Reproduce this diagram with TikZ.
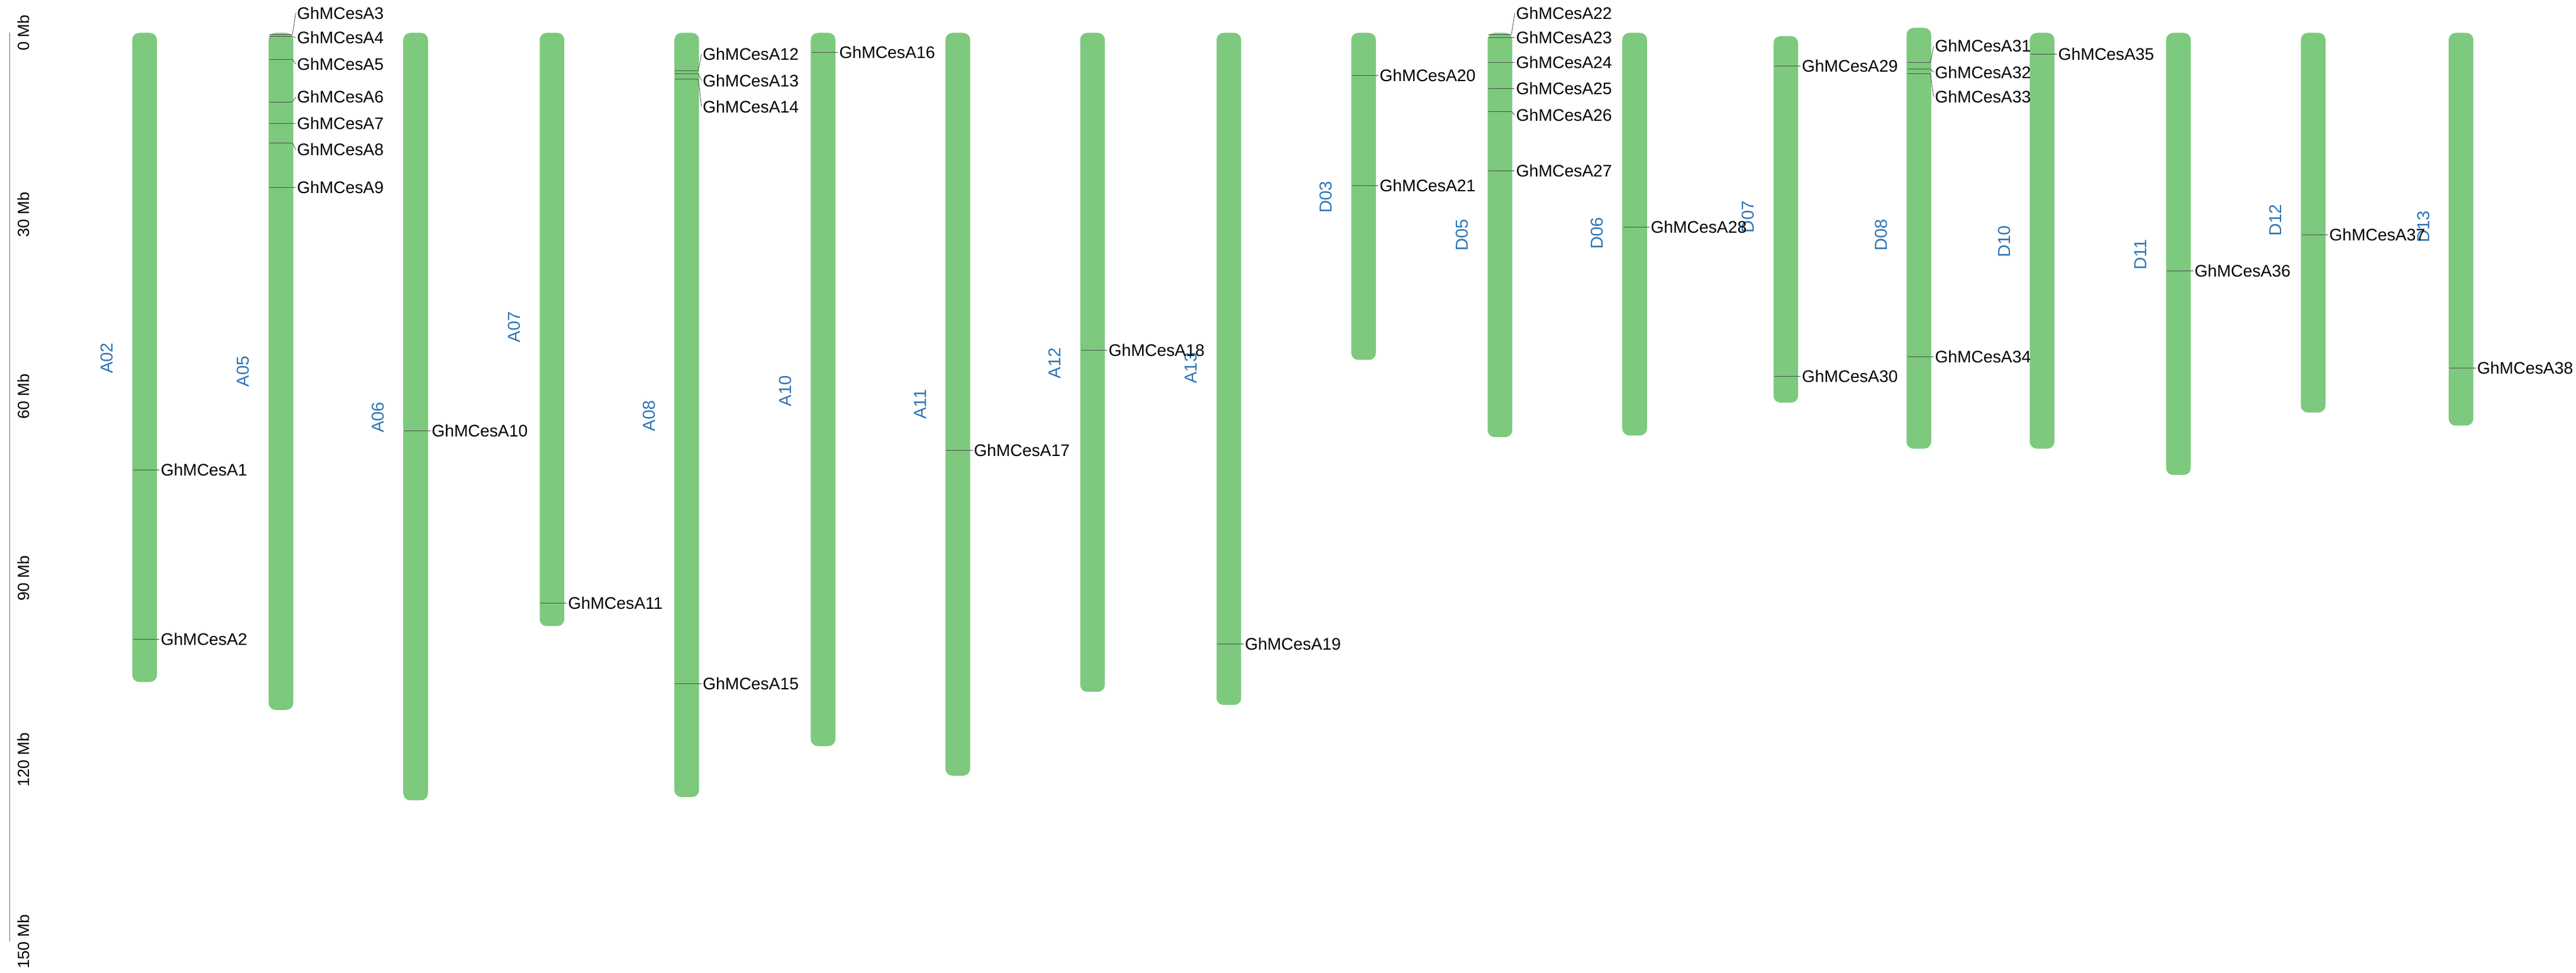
\documentclass[tikz,border=0pt]{standalone}
\usepackage{fontspec}
\setmainfont{Liberation Sans}
\definecolor{chr}{RGB}{125,201,125}
\definecolor{lab}{RGB}{46,117,182}
\tikzset{x=0.05cm,y=-0.05cm,
 chrom/.style={fill=chr,draw=none,rounded corners=6pt},
 chrlab/.style={text=lab,rotate=90,font=\fontsize{15}{18}\selectfont},
 genelab/.style={anchor=west,font=\fontsize{14.5}{17}\selectfont,inner sep=1pt},
 tick/.style={rotate=90,anchor=north,font=\fontsize{14}{17}\selectfont,inner sep=1pt},
 link/.style={draw=black!70,line width=0.4pt}}
\newcommand{\gn}[5]{% x, marker y, label y, name, node id
 \draw[link] (#1-7,#2) -- (#1+7,#2) coordinate (m#5);
 \node[genelab] (g#5) at (#1+9,#3) {#4};
 \draw[link] (m#5) -- (g#5.west);}
\begin{document}
\begin{tikzpicture}
\useasboundingbox (0,0) rectangle (1568,592);
\draw[line width=0.8pt,black!60] (6,20) coordinate (ax0) -- (6,573) coordinate (ax1);
\foreach \v in {0,30,60,90,120,150}{
 \node[tick] at (10,20+3.687*\v) {\v{} Mb};}
\foreach \n/\x/\t/\b/\ly in {A02/88/20/415/218,A05/171/20/432/226,A06/253/20/487/254,A07/336/20/381/199,A08/418/20/485/253,A10/501/20/454/238,A11/583/20/472/246,A12/665/20/421/221,A13/748/20/429/224,D03/830/20/219/120,D05/913/20/266/143,D06/995/20/265/142,D07/1087/22/245/132,D08/1168/17/273/143,D10/1243/20/273/147,D11/1326/20/289/155,D12/1408/20/251/134,D13/1498/20/259/138}{
 \fill[chrom] (\x-7.5,\t) rectangle (\x+7.5,\b);
 \node[chrlab] (l\n) at (\x-23,\ly) {\n};}
\gn{88}{286}{286}{GhMCesA1}{1}
\gn{88}{389}{389}{GhMCesA2}{2}
\gn{171}{21}{8}{GhMCesA3}{3}
\gn{171}{22}{23}{GhMCesA4}{4}
\gn{171}{36}{39}{GhMCesA5}{5}
\gn{171}{62}{59}{GhMCesA6}{6}
\gn{171}{75}{75}{GhMCesA7}{7}
\gn{171}{87}{91}{GhMCesA8}{8}
\gn{171}{114}{114}{GhMCesA9}{9}
\gn{253}{262}{262}{GhMCesA10}{10}
\gn{336}{367}{367}{GhMCesA11}{11}
\gn{418}{43}{33}{GhMCesA12}{12}
\gn{418}{45}{49}{GhMCesA13}{13}
\gn{418}{48}{65}{GhMCesA14}{14}
\gn{418}{416}{416}{GhMCesA15}{15}
\gn{501}{32}{32}{GhMCesA16}{16}
\gn{583}{274}{274}{GhMCesA17}{17}
\gn{665}{213}{213}{GhMCesA18}{18}
\gn{748}{392}{392}{GhMCesA19}{19}
\gn{830}{46}{46}{GhMCesA20}{20}
\gn{830}{113}{113}{GhMCesA21}{21}
\gn{913}{21}{8}{GhMCesA22}{22}
\gn{913}{23}{23}{GhMCesA23}{23}
\gn{913}{38}{38}{GhMCesA24}{24}
\gn{913}{54}{54}{GhMCesA25}{25}
\gn{913}{68}{70}{GhMCesA26}{26}
\gn{913}{104}{104}{GhMCesA27}{27}
\gn{995}{138}{138}{GhMCesA28}{28}
\gn{1087}{40}{40}{GhMCesA29}{29}
\gn{1087}{229}{229}{GhMCesA30}{30}
\gn{1168}{38}{28}{GhMCesA31}{31}
\gn{1168}{42}{44}{GhMCesA32}{32}
\gn{1168}{45}{59}{GhMCesA33}{33}
\gn{1168}{217}{217}{GhMCesA34}{34}
\gn{1243}{33}{33}{GhMCesA35}{35}
\gn{1326}{165}{165}{GhMCesA36}{36}
\gn{1408}{143}{143}{GhMCesA37}{37}
\gn{1498}{224}{224}{GhMCesA38}{38}
\end{tikzpicture}
\end{document}
